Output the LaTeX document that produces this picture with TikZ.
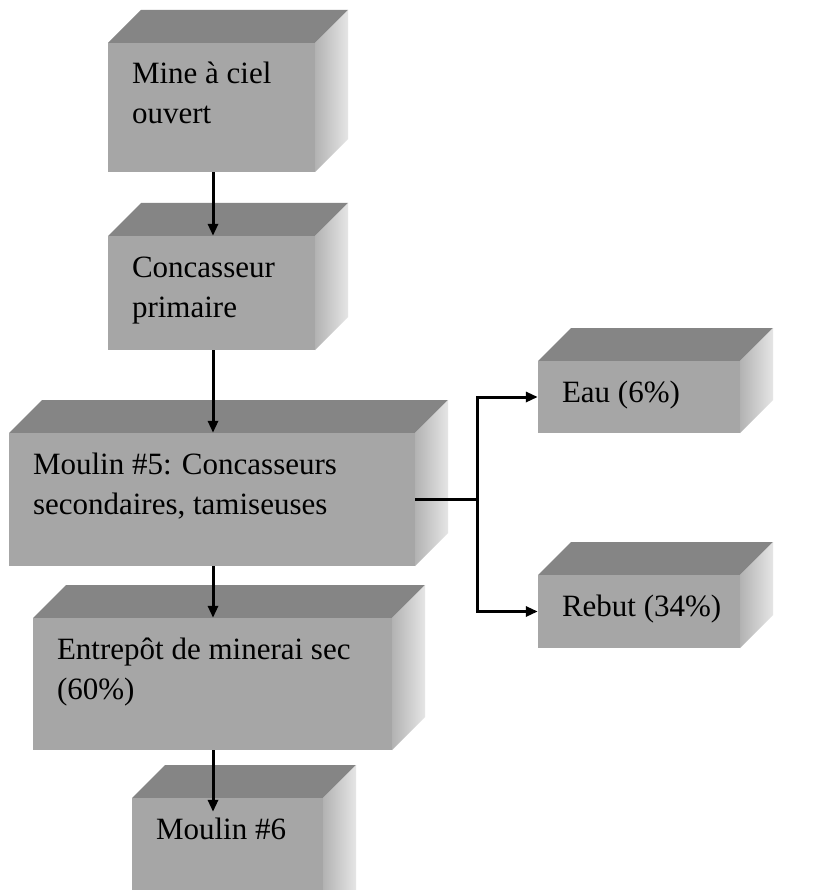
\documentclass[tikz,border=0pt]{standalone}
\usepackage{fontspec}
\setmainfont{Liberation Serif}
\usetikzlibrary{arrows.meta}

\definecolor{frontgray}{gray}{0.65}
\definecolor{topgray}{gray}{0.52}
\definecolor{sidedark}{gray}{0.70}
\definecolor{sidelight}{gray}{0.90}

\tikzset{
  frontface/.style={rectangle, fill=frontgray, inner sep=0pt},
  boxtext/.style={anchor=north west, align=left, inner sep=0pt,
    font=\fontsize{31}{40}\selectfont},
  flow/.style={line width=3pt, -{Triangle[length=12pt,width=10pt]}}
}

% 3d block: name, left, right, front top, front bottom, text
\newcommand{\block}[6]{%
  \fill[topgray] (#2,#4) -- ({#2+33},{#4-33}) -- ({#3+33},{#4-33}) -- (#3,#4) -- cycle;
  \shade[left color=sidedark, right color=sidelight]
    (#3,#4) -- ({#3+33},{#4-33}) -- ({#3+33},{#5-33}) -- (#3,#5) -- cycle;
  \node[frontface, minimum width={(#3-#2)*1pt}, minimum height={(#5-#4)*1pt}]
    (#1) at ({(#2+#3)/2},{(#4+#5)/2}) {};
  \node[boxtext, xshift=24pt, yshift=-13pt] (#1-txt) at (#1.north west) {#6};
}

\begin{document}
\begin{tikzpicture}[x=1pt, y=-1pt]

    % Page
    \clip (0,0) rectangle (823,890);
    \fill[white] (0,0) rectangle (823,890);

    % Main line
    \block{mine}{108}{315}{43}{172}{\strut Mine à ciel\\ouvert}
    \block{concasseur}{108}{315}{236}{350}{\strut Concasseur\\primaire}
    \block{moulinA}{9}{415}{433}{566}{\strut Moulin \#5: Concasseurs\\secondaires, tamiseuses}
    \block{entrepot}{33}{392}{618}{750}{\strut Entrepôt de minerai sec\\(60\%)}
    \block{moulinB}{132}{323}{798}{930}{\strut Moulin \#6}

    % Side outputs
    \block{eau}{538}{740}{361}{433}{\strut Eau (6\%)}
    \block{rebut}{538}{740}{575}{648}{\strut Rebut (34\%)}

    % Arrows
    \coordinate (spine) at (213,0);
    \draw[flow] (mine.south -| spine) -- (concasseur.north -| spine);
    \draw[flow] (concasseur.south -| spine) -- (moulinA.north -| spine);
    \draw[flow] (moulinA.south -| spine) -- (entrepot.north -| spine);
    \draw[flow, shorten >=-14pt] (entrepot.south -| spine) -- (moulinB.north -| spine);

    % Split
    \coordinate (split) at (477,0);
    \draw[line width=3pt] (moulinA.east) -- (moulinA.east -| split);
    \draw[flow] (split |- moulinA.east) |- (eau.west);
    \draw[flow] (split |- moulinA.east) |- (rebut.west);
\end{tikzpicture}
\end{document}
